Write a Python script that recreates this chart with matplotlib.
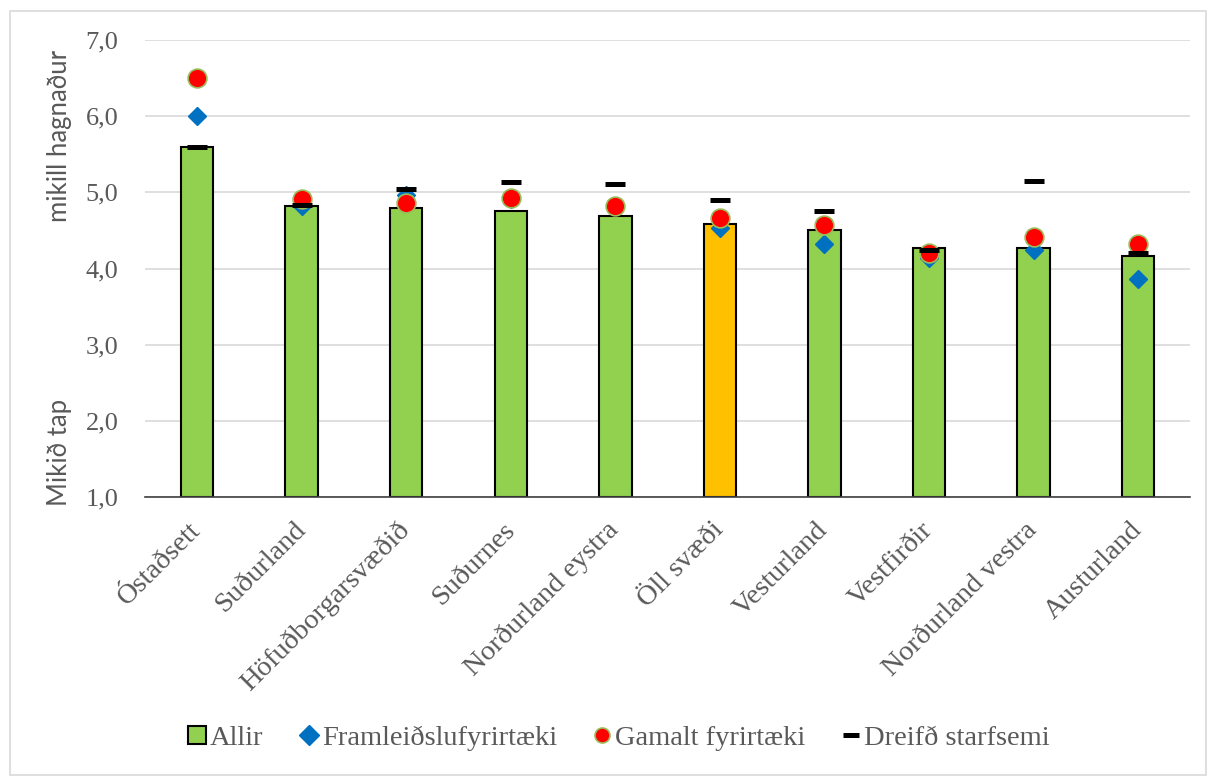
import numpy as np
import matplotlib.pyplot as plt
from matplotlib.patches import Rectangle

# Gögn lesin af myndinni
svaedi = ['Óstaðsett', 'Suðurland', 'Höfuðborgarsvæðið', 'Suðurnes',
          'Norðurland eystra', 'Öll svæði', 'Vesturland', 'Vestfirðir',
          'Norðurland vestra', 'Austurland']
allir = [5.60, 4.82, 4.80, 4.76, 4.69, 4.58, 4.51, 4.27, 4.27, 4.16]
framleidsla = [6.00, 4.82, 4.97, 4.92, 4.82, 4.53, 4.32, 4.14, 4.24, 3.86]
gamalt = [6.50, 4.91, 4.86, 4.93, 4.82, 4.67, 4.57, 4.21, 4.42, 4.32]
dreifd = [5.60, 4.84, 5.04, 5.14, 5.11, 4.90, 4.75, 4.24, 5.15, 4.21]
y_ticks = [1, 2, 3, 4, 5, 6, 7]

gray = '#595959'
serif = ['Liberation Serif', 'DejaVu Serif']
sans = ['Lato', 'DejaVu Sans']

fig = plt.figure(figsize=(12.16, 7.78), dpi=100)
ax = fig.add_axes([0.119, 0.361, 0.860, 0.5875])

x = np.arange(len(svaedi))
colors = ['#FFC000' if s == 'Öll svæði' else '#92D050' for s in svaedi]
b = ax.bar(x, np.array(allir) - 1, bottom=1, width=0.31, color=colors,
           edgecolor='black', linewidth=1.5, label='Allir', zorder=2)
l1, = ax.plot(x, framleidsla, linestyle='none', marker='D', markersize=9.5,
              color='#0070C0', markeredgecolor='#0070C0', label='Framleiðslufyrirtæki', zorder=3)
l2, = ax.plot(x, gamalt, linestyle='none', marker='o', markersize=13.5,
              color='#FF0000', markeredgecolor='#9BBB59', markeredgewidth=1.2,
              label='Gamalt fyrirtæki', zorder=4)
l3, = ax.plot(x, dreifd, linestyle='none', marker='_', markersize=14,
              markeredgewidth=3.6, color='black', label='Dreifð starfsemi', zorder=5)

ax.set_xlim(-0.5, len(svaedi) - 0.5)
ax.set_ylim(1, 7)
ax.set_yticks(y_ticks)
ax.set_yticklabels([f'{v:.1f}'.replace('.', ',') for v in y_ticks],
                   fontsize=19, color=gray, family=serif)
ax.set_xticks(x)
ax.set_xticklabels(svaedi, rotation=45, ha='right', va='center', rotation_mode='anchor',
                   fontsize=20.5, color=gray, family=serif)
ax.tick_params(axis='y', length=0, pad=19)
ax.tick_params(axis='x', length=0, pad=21)
ax.grid(axis='y', color='#D9D9D9', linewidth=1.2, zorder=0)
ax.set_axisbelow(True)
for s in ['top', 'right', 'left']:
    ax.spines[s].set_visible(False)
ax.spines['bottom'].set_color('#404040')
ax.spines['bottom'].set_linewidth(1.2)

fig.text(0.049, 0.825, 'mikill hagnaður', rotation=90, ha='center', va='center',
         fontsize=18.5, color=gray, family=sans)
fig.text(0.049, 0.419, 'Mikið tap', rotation=90, ha='center', va='center',
         fontsize=18.5, color=gray, family=sans)

leg = fig.legend([b, l1, l2, l3], ['Allir', 'Framleiðslufyrirtæki', 'Gamalt fyrirtæki', 'Dreifð starfsemi'],
                 loc='center', bbox_to_anchor=(0.509, 0.051), ncol=4, frameon=False,
                 prop={'family': serif, 'size': 20.5}, handletextpad=0.15,
                 columnspacing=1.3, handlelength=0.6, handleheight=0.6, markerscale=0.8)
leg.legend_handles[1].set_markersize(10)
for t in leg.get_texts():
    t.set_color(gray)

fig.patches.append(Rectangle((0.008, 0.004), 0.984, 0.982, transform=fig.transFigure,
                             fill=False, edgecolor='#D9D9D9', linewidth=1.2))

fig.savefig('out.png', dpi=100)
